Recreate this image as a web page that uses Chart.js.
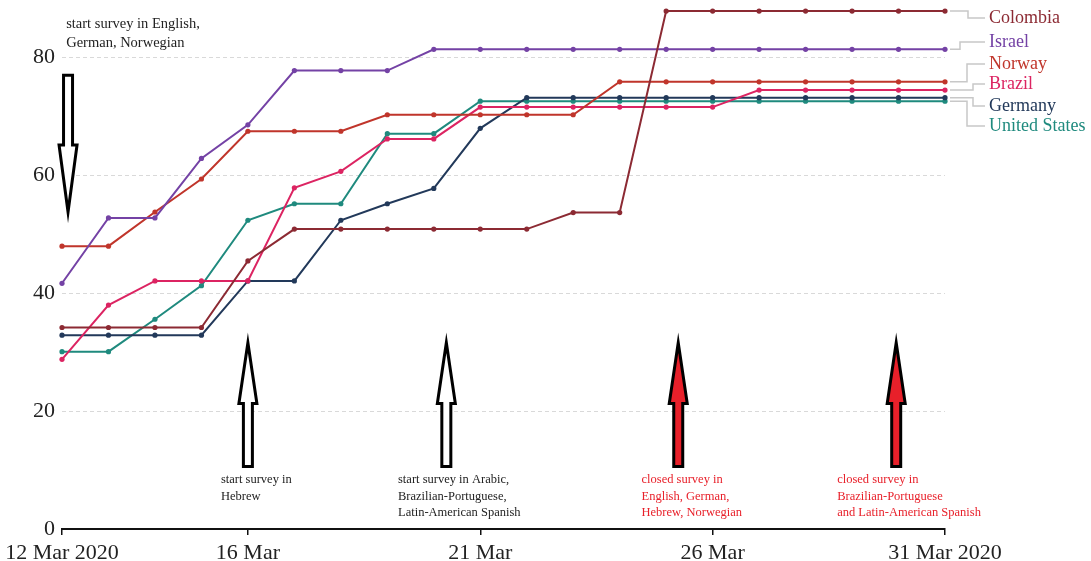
<!DOCTYPE html>
<html>
<head>
<meta charset="utf-8">
<script src="https://cdn.jsdelivr.net/npm/chart.js@4/dist/chart.umd.min.js"></script>
<style>
  html, body { margin: 0; padding: 0; background: #fff; }
  #wrap { width: 1091px; height: 561px; position: relative; }
</style>
</head>
<body>
<div id="wrap"><canvas id="chart"></canvas></div>
<script>
// Survey days, 12–31 March 2020
const days = ['12 Mar','13 Mar','14 Mar','15 Mar','16 Mar','17 Mar','18 Mar','19 Mar','20 Mar','21 Mar',
              '22 Mar','23 Mar','24 Mar','25 Mar','26 Mar','27 Mar','28 Mar','29 Mar','30 Mar','31 Mar'];

// Labelled x ticks (day index -> text)
const tickDays   = [0, 4, 9, 14, 19];
const tickLabels = ['12 Mar 2020', '16 Mar', '21 Mar', '26 Mar', '31 Mar 2020'];
const yTicks     = [0, 20, 40, 60, 80];

// Country series
const countries = ['Colombia', 'Israel', 'Norway', 'Brazil', 'Germany', 'United States'];
const colombia = [34.2,34.2,34.2,34.2,45.5,50.9,50.9,50.9,50.9,50.9,50.9,53.7,53.7,87.9,87.9,87.9,87.9,87.9,87.9,87.9];
const israel   = [41.7,52.8,52.8,62.9,68.6,77.8,77.8,77.8,81.4,81.4,81.4,81.4,81.4,81.4,81.4,81.4,81.4,81.4,81.4,81.4];
const norway   = [48.0,48.0,53.8,59.4,67.5,67.5,67.5,70.3,70.3,70.3,70.3,70.3,75.9,75.9,75.9,75.9,75.9,75.9,75.9,75.9];
const brazil   = [28.8,38.0,42.1,42.1,42.1,57.9,60.7,66.2,66.2,71.6,71.6,71.6,71.6,71.6,71.6,74.5,74.5,74.5,74.5,74.5];
const germany  = [32.9,32.9,32.9,32.9,42.1,42.1,52.4,55.2,57.8,68.0,73.2,73.2,73.2,73.2,73.2,73.2,73.2,73.2,73.2,73.2];
const usa      = [30.1,30.1,35.6,41.3,52.4,55.2,55.2,67.1,67.1,72.6,72.6,72.6,72.6,72.6,72.6,72.6,72.6,72.6,72.6,72.6];
const seriesValues = [colombia, israel, norway, brazil, germany, usa];
const seriesColors = ['#8c2a33', '#7442a5', '#c0352b', '#dc2462', '#22395a', '#1f8a7e'];

// Survey milestones
const milestones = [
  { day: 0.13, from: 77, to: 53.8, fill: '#ffffff', textColor: '#222222',
    textDay: 0.09, textY: 24, size: 14.5, lines: ['start survey in English,', 'German, Norwegian'] },
  { day: 4.0, from: 10.6, to: 31.6, fill: '#ffffff', textColor: '#222222',
    textDay: 3.42, textY: 480, size: 12.5, lines: ['start survey in', 'Hebrew'] },
  { day: 8.27, from: 10.6, to: 31.6, fill: '#ffffff', textColor: '#222222',
    textDay: 7.23, textY: 480, size: 12.5, lines: ['start survey in Arabic,', 'Brazilian-Portuguese,', 'Latin-American Spanish'] },
  { day: 13.26, from: 10.6, to: 31.6, fill: '#e8202a', textColor: '#e8202a',
    textDay: 12.47, textY: 480, size: 12.5, lines: ['closed survey in', 'English, German,', 'Hebrew, Norwegian'] },
  { day: 17.95, from: 10.6, to: 31.6, fill: '#e8202a', textColor: '#e8202a',
    textDay: 16.68, textY: 480, size: 12.5, lines: ['closed survey in', 'Brazilian-Portuguese', 'and Latin-American Spanish'] }
];

const SERIF = '"Liberation Serif", "DejaVu Serif", serif';

const datasets = countries.map((name, i) => ({
  label: name,
  data: seriesValues[i].map((v, d) => ({ x: d, y: v })),
  borderColor: seriesColors[i],
  backgroundColor: seriesColors[i],
  pointBackgroundColor: seriesColors[i],
  pointBorderWidth: 0,
  pointRadius: 2.6,
  borderWidth: 2,
  tension: 0,
  clip: false
}));

// Country names at the right end, joined to each line by an elbow connector
const endLabels = {
  id: 'endLabels',
  afterDatasetsDraw(chart) {
    const ctx = chart.ctx;
    const labelY = [18, 42, 64, 84, 106, 126];
    const elbowX = [968, 960, 967, 973, 973, 967];
    ctx.save();
    chart.data.datasets.forEach((ds, i) => {
      const meta = chart.getDatasetMeta(i);
      const pt = meta.data[meta.data.length - 1];
      const x0 = pt.x + 5;
      ctx.strokeStyle = '#c8c8c8';
      ctx.lineWidth = 1.5;
      ctx.beginPath();
      ctx.moveTo(x0, pt.y);
      ctx.lineTo(elbowX[i], pt.y);
      ctx.lineTo(elbowX[i], labelY[i]);
      ctx.lineTo(985, labelY[i]);
      ctx.stroke();
      ctx.fillStyle = ds.borderColor;
      ctx.font = '18px ' + SERIF;
      ctx.textAlign = 'left';
      ctx.textBaseline = 'middle';
      ctx.fillText(ds.label, 989, labelY[i]);
    });
    ctx.restore();
  }
};

// Block arrows with captions marking survey openings and closings
const milestoneArrows = {
  id: 'milestoneArrows',
  afterDraw(chart) {
    const ctx = chart.ctx;
    const xs = chart.scales.x, ys = chart.scales.y;
    ctx.save();
    milestones.forEach(m => {
      const x = xs.getPixelForValue(m.day);
      const base = ys.getPixelForValue(m.from);
      const tip = ys.getPixelForValue(m.to);
      const sgn = tip < base ? -1 : 1;
      const len = Math.abs(tip - base);
      const headLen = len * 0.49;
      const sw = 4.5, hw = 9;
      const neck = tip - sgn * headLen;
      ctx.beginPath();
      ctx.moveTo(x - sw, base);
      ctx.lineTo(x - sw, neck);
      ctx.lineTo(x - hw, neck);
      ctx.lineTo(x, tip);
      ctx.lineTo(x + hw, neck);
      ctx.lineTo(x + sw, neck);
      ctx.lineTo(x + sw, base);
      ctx.closePath();
      ctx.fillStyle = m.fill;
      ctx.fill();
      ctx.lineWidth = 3;
      ctx.lineJoin = 'miter';
      ctx.strokeStyle = '#000';
      ctx.stroke();

      const tx = xs.getPixelForValue(m.textDay);
      ctx.fillStyle = m.textColor;
      ctx.font = m.size + 'px ' + SERIF;
      ctx.textAlign = 'left';
      ctx.textBaseline = 'middle';
      const lh = m.size * 1.3;
      m.lines.forEach((t, k) => ctx.fillText(t, tx, m.textY + k * lh));
    });
    ctx.restore();
  }
};

new Chart(document.getElementById('chart'), {
  type: 'line',
  data: { datasets },
  options: {
    responsive: true,
    maintainAspectRatio: false,
    animation: false,
    layout: { padding: { left: 0, right: 146, top: 0, bottom: 0 } },
    plugins: { legend: { display: false }, tooltip: { enabled: false } },
    scales: {
      x: {
        type: 'linear',
        min: 0,
        max: days.length - 1,
        afterBuildTicks(scale) { scale.ticks = tickDays.map(v => ({ value: v })); },
        afterFit(scale) { scale.height = 32; scale.paddingLeft = 0; scale.paddingRight = 0; },
        ticks: {
          autoSkip: false,
          maxRotation: 0,
          padding: 5,
          color: '#222',
          font: { family: SERIF, size: 22 },
          callback(v) { const k = tickDays.indexOf(v); return k >= 0 ? tickLabels[k] : ''; }
        },
        grid: { drawOnChartArea: false, drawTicks: true, tickLength: 6, color: '#111', lineWidth: 1.5 },
        border: { display: true, color: '#111', width: 2 }
      },
      y: {
        min: 0,
        max: 89.1,
        afterBuildTicks(scale) { scale.ticks = yTicks.map(v => ({ value: v })); },
        afterFit(scale) { scale.width = 62; scale.paddingTop = 0; scale.paddingBottom = 0; },
        ticks: {
          padding: 7,
          color: '#222',
          font: { family: SERIF, size: 22 },
          callback(v) { return String(v); }
        },
        grid: {
          drawTicks: false,
          color: ctx => ctx.tick && ctx.tick.value === 0 ? 'rgba(0,0,0,0)' : '#d9d9d9',
          lineWidth: 1
        },
        border: { display: false, dash: [4, 3] }
      }
    }
  },
  plugins: [endLabels, milestoneArrows]
});
</script>
</body>
</html>
